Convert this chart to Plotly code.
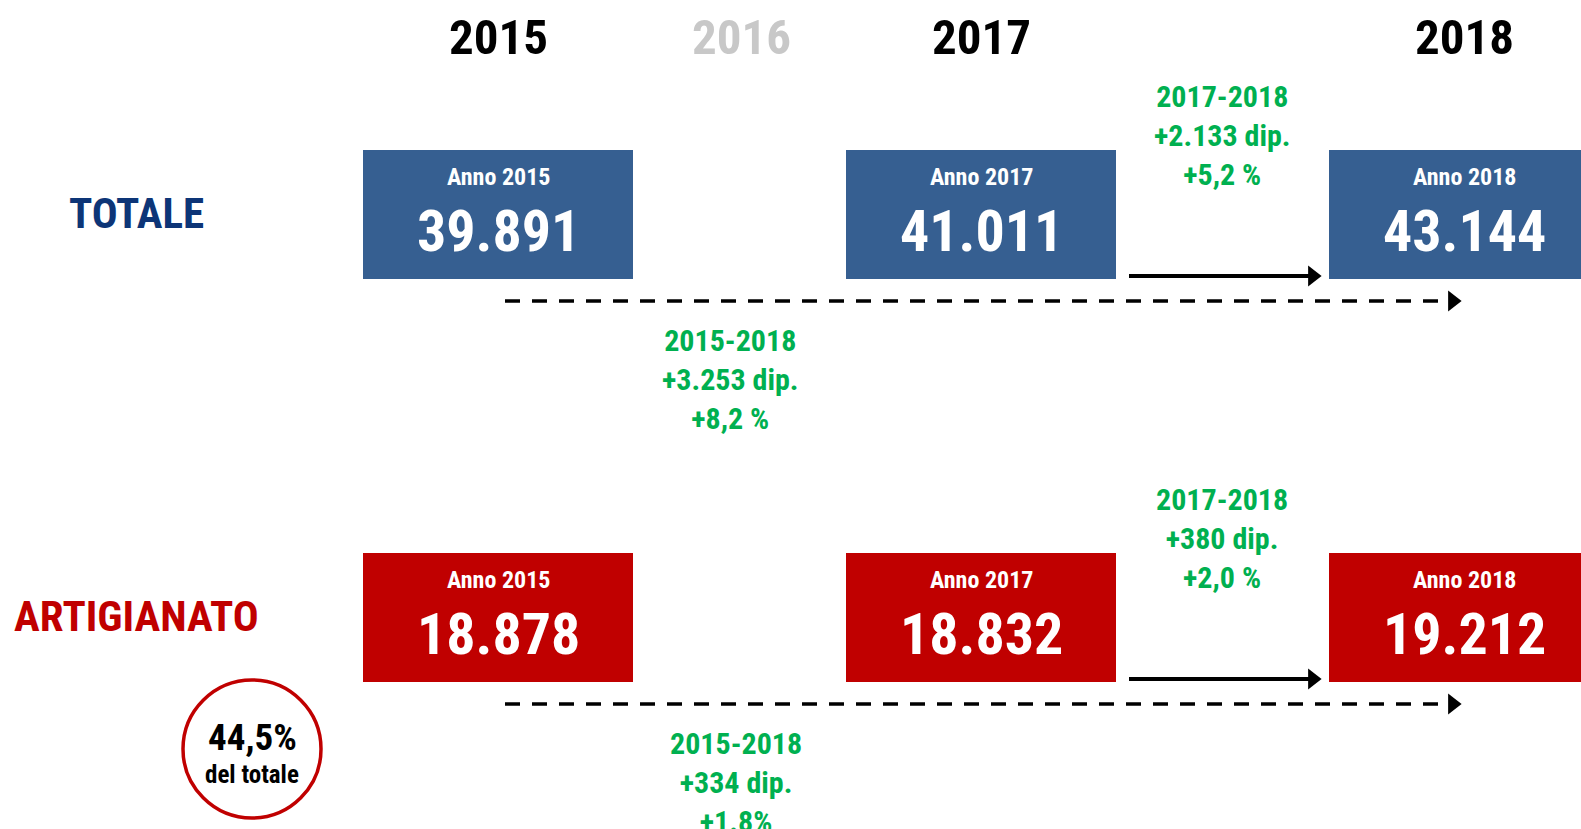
import plotly.graph_objects as go

# ---------------- data ----------------
header_years = ["2015", "2016", "2017", "2018"]
header_colors = ["#000000", "#c8c8c8", "#000000", "#000000"]
box_years = ["2015", "2017", "2018"]
totale_values = [39891, 41011, 43144]
artigianato_values = [18878, 18832, 19212]
row_labels = ["TOTALE", "ARTIGIANATO"]
row_label_colors = ["#0d3577", "#c00000"]
row_box_colors = ["#365f91", "#c00000"]
delta_recent = [["2017-2018", "+2.133 dip.", "+5,2 %"], ["2017-2018", "+380 dip.", "+2,0 %"]]
delta_long = [["2015-2018", "+3.253 dip.", "+8,2 %"], ["2015-2018", "+334 dip.", "+1.8%"]]
share_text = ["44,5%", "del totale"]

# ---------------- layout constants (pixel space) ----------------
W, H = 1581, 829
FONT = "Liberation Sans Narrow, Arial Narrow, Roboto Condensed, Liberation Sans, sans-serif"
GREEN = "#00b050"
col_x = {"2015": 498, "2016": 741, "2017": 981, "2018": 1464}
box_w, box_h = 270, 129
row_top = [150, 553]
label_x = 136
label_dy = 63
recent_x = 1222
long_x = [730, 736]
HEAD = 18                      # arrowhead marker size
HEAD_RT = HEAD / 2 * 2 / 3 ** 0.5  # distance from marker centre to tip

fig = go.Figure()
shapes = []
ann = []

def fmt(v):
    return f"{v:,}".replace(",", ".")

# headers
for y, c in zip(header_years, header_colors):
    ann.append(dict(x=col_x[y], y=37, text=f"<b>{y}</b>", showarrow=False,
                    font=dict(family=FONT, size=49, color=c), xanchor="center", yanchor="middle"))

for r, vals in enumerate([totale_values, artigianato_values]):
    top = row_top[r]
    bottom = top + box_h
    # row label
    ann.append(dict(x=label_x, y=top + label_dy, text=f"<b>{row_labels[r]}</b>", showarrow=False,
                    font=dict(family=FONT, size=43, color=row_label_colors[r]),
                    xanchor="center", yanchor="middle"))
    # boxes
    for yr, v in zip(box_years, vals):
        cx = col_x[yr]
        shapes.append(dict(type="rect", xref="x", yref="y", x0=cx - box_w / 2, x1=cx + box_w / 2,
                           y0=top, y1=bottom, fillcolor=row_box_colors[r], line=dict(width=0),
                           layer="below"))
        ann.append(dict(x=cx, y=top + 27, text=f"<b>Anno {yr}</b>", showarrow=False,
                        font=dict(family=FONT, size=24, color="white"), xanchor="center", yanchor="middle"))
        ann.append(dict(x=cx, y=top + 81, text=f"<b>{fmt(v)}</b>", showarrow=False,
                        font=dict(family=FONT, size=58, color="white"), xanchor="center", yanchor="middle"))
    # solid arrow 2017 -> 2018
    ys = bottom - 3
    x_start = col_x["2017"] + box_w / 2 + 13
    x_tip = col_x["2018"] - box_w / 2 - 6
    fig.add_trace(go.Scatter(x=[x_start, x_tip - HEAD_RT], y=[ys, ys], mode="lines",
                             line=dict(color="black", width=4), hoverinfo="skip", showlegend=False))
    fig.add_trace(go.Scatter(x=[x_tip - HEAD_RT], y=[ys], mode="markers",
                             marker=dict(symbol="triangle-right", size=HEAD, color="black"),
                             hoverinfo="skip", showlegend=False))
    # dashed arrow 2015 -> 2018
    yd = bottom + 22
    xd0 = col_x["2015"] + 7
    xd_tip = col_x["2018"] - 1
    fig.add_trace(go.Scatter(x=[xd0, xd_tip - HEAD_RT - 4], y=[yd, yd], mode="lines",
                             line=dict(color="black", width=3.5, dash="15px,12px"),
                             hoverinfo="skip", showlegend=False))
    fig.add_trace(go.Scatter(x=[xd_tip - HEAD_RT], y=[yd], mode="markers",
                             marker=dict(symbol="triangle-right", size=HEAD, color="black"),
                             hoverinfo="skip", showlegend=False))
    # green delta texts
    ann.append(dict(x=recent_x, y=top - 15, text="<b>" + "<br>".join(delta_recent[r]) + "</b>",
                    showarrow=False, font=dict(family=FONT, size=30, color=GREEN),
                    xanchor="center", yanchor="middle"))
    ann.append(dict(x=long_x[r], y=bottom + 100, text="<b>" + "<br>".join(delta_long[r]) + "</b>",
                    showarrow=False, font=dict(family=FONT, size=30, color=GREEN),
                    xanchor="center", yanchor="middle"))

# share circle
ccx, ccy, rad = 252, 749, 69
shapes.append(dict(type="circle", xref="x", yref="y", x0=ccx - rad, x1=ccx + rad, y0=ccy - rad, y1=ccy + rad,
                   line=dict(color="#c00000", width=3.5), fillcolor="white"))
ann.append(dict(x=ccx, y=ccy - 12, text=f"<b>{share_text[0]}</b>", showarrow=False,
                font=dict(family=FONT, size=37, color="black"), xanchor="center", yanchor="middle"))
ann.append(dict(x=ccx, y=ccy + 25, text=f"<b>{share_text[1]}</b>", showarrow=False,
                font=dict(family=FONT, size=25, color="black"), xanchor="center", yanchor="middle"))

fig.update_layout(
    width=W, height=H, margin=dict(l=0, r=0, t=0, b=0),
    paper_bgcolor="white", plot_bgcolor="white",
    xaxis=dict(range=[0, W], visible=False, fixedrange=True),
    yaxis=dict(range=[H, 0], visible=False, fixedrange=True),
    shapes=shapes, annotations=ann, showlegend=False,
)
fig.write_html("out.html", config={"displayModeBar": False},
               post_script="document.body.style.margin='0';document.body.style.overflow='hidden';")
